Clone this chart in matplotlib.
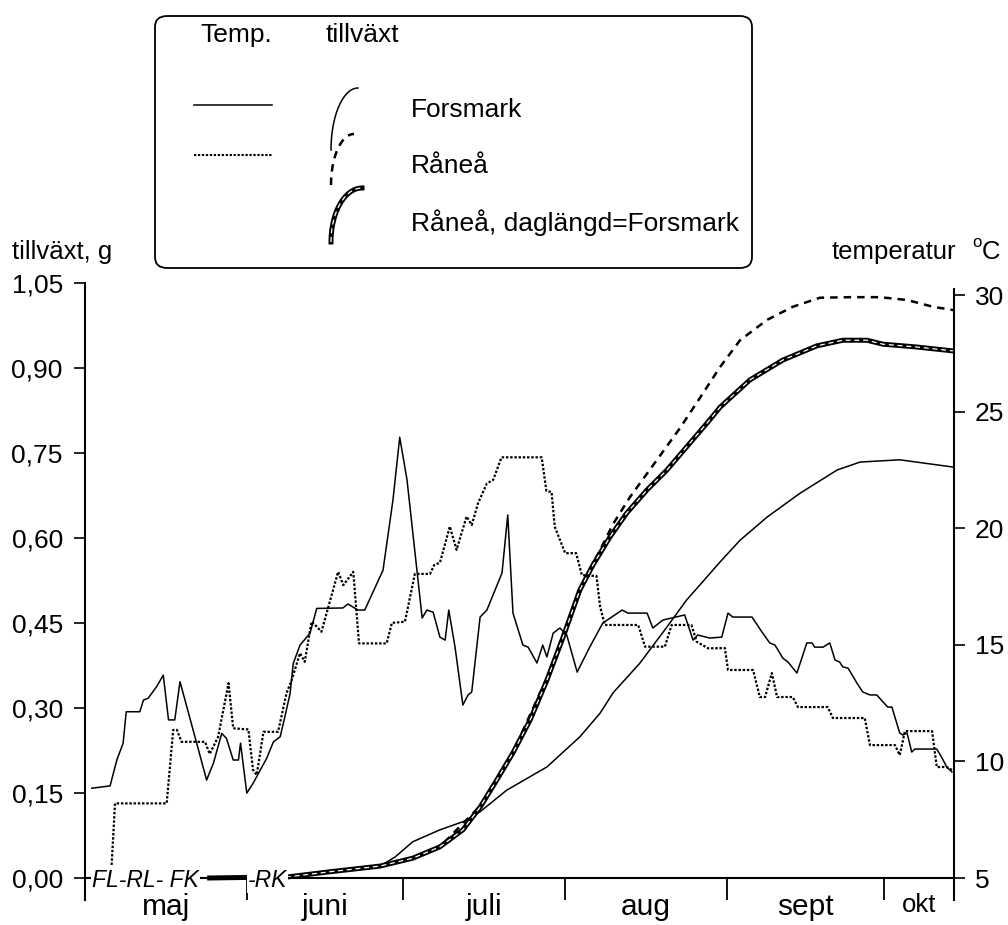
import numpy as np
import matplotlib
matplotlib.use("Agg")
import matplotlib.pyplot as plt
import matplotlib.ticker as mticker
from matplotlib.patches import FancyBboxPatch
from matplotlib.lines import Line2D

plt.rcParams['font.family'] = ['Liberation Sans', 'DejaVu Sans']

# x = dagar räknat från 1 maj
manad_grans = [31, 61, 92, 123, 153]
manad_mitt = [15.5, 46, 76.5, 107.5, 138, 159.75]
manad_namn = ['maj', 'juni', 'juli', 'aug', 'sept', 'okt']
x_slut = 166.5

# vänster axel: tillväxt (g)
tillvaxt_ticks = [0.0, 0.15, 0.30, 0.45, 0.60, 0.75, 0.90, 1.05]
# höger axel: temperatur (°C)
temp_ticks = [5, 10, 15, 20, 25, 30]

# temperatur Forsmark (dag, °C)
temp_forsmark = [
    (1.3, 8.85), (4.8, 8.95), (6.1, 10.06), (7.3, 10.78), (7.9, 12.13), (10.5, 12.13),
    (11.2, 12.63), (12.1, 12.71), (13.7, 13.2), (15.0, 13.7), (16.0, 11.78), (17.2, 11.78),
    (18.2, 13.42), (19.5, 12.35), (21.4, 10.78), (23.3, 9.2), (24.6, 9.92), (26.2, 11.2),
    (27.1, 10.99), (28.4, 10.06), (29.4, 10.06), (29.8, 10.78), (31.0, 8.64), (32.2, 9.06),
    (34.8, 10.13), (36.1, 10.84), (37.4, 11.06), (38.3, 11.92), (39.3, 12.92), (39.9, 14.2),
    (41.2, 14.99), (43.1, 15.49), (44.4, 16.56), (49.4, 16.58), (50.4, 16.75), (52.3, 16.49),
    (53.6, 16.49), (57.1, 18.2), (59.0, 21.2), (60.3, 23.9), (61.7, 22.07), (64.6, 16.15),
    (65.5, 16.49), (66.7, 16.4), (68.0, 15.33), (69.0, 15.2), (69.7, 16.49), (70.9, 14.9),
    (72.4, 12.42), (73.4, 12.85), (74.1, 12.98), (75.7, 16.19), (77.0, 16.49), (79.9, 18.08),
    (81.0, 20.57), (82.0, 16.36), (83.9, 14.99), (84.9, 14.9), (86.6, 14.22), (87.7, 14.99),
    (88.5, 14.48), (89.7, 15.5), (91.0, 15.72), (92.3, 15.42), (94.3, 13.83), (96.7, 14.9),
    (99.2, 15.93), (102.9, 16.49), (104.0, 16.36), (107.7, 16.36), (108.8, 15.72), (110.7, 16.06),
    (114.9, 16.28), (116.5, 15.2), (117.4, 15.42), (119.7, 15.29), (122.0, 15.33), (123.2, 16.36),
    (124.1, 16.19), (127.8, 16.19), (129.7, 15.55), (131.2, 15.08), (132.2, 14.99), (133.7, 14.43),
    (134.7, 14.26), (136.4, 13.79), (138.3, 15.08), (139.3, 15.08), (139.8, 14.9), (141.4, 14.9),
    (142.7, 15.08), (143.7, 14.35), (144.6, 14.26), (145.2, 14.05), (146.2, 14.0), (147.9, 13.36),
    (149.0, 12.98), (150.4, 12.85), (151.7, 12.85), (152.9, 12.55), (153.8, 12.33), (154.6, 12.33),
    (156.1, 11.22), (156.7, 11.13), (157.5, 11.22), (158.4, 10.4), (159.0, 10.53), (163.2, 10.53),
    (164.2, 10.15), (165.1, 9.76), (166.1, 9.55),
]

# temperatur Råneå (dag, °C)
temp_ranea = [
    (5.1, 5.56), (5.75, 8.2), (15.65, 8.2), (16.9, 11.35), (17.6, 11.35), (18.5, 10.84),
    (23.0, 10.84), (23.9, 10.32), (25.5, 11.05), (27.5, 13.35), (28.4, 11.42), (31.3, 11.37),
    (32.2, 9.63), (32.9, 9.42), (34.2, 11.27), (37.0, 11.27), (38.6, 12.92), (39.6, 13.49),
    (41.2, 14.64), (42.1, 14.27), (43.4, 15.99), (44.1, 15.85), (45.3, 15.56), (48.5, 18.13),
    (49.5, 17.56), (51.4, 18.13), (52.5, 15.06), (57.8, 15.06), (58.8, 15.94), (61.3, 15.99),
    (63.2, 18.04), (66.1, 18.04), (66.9, 18.42), (68.0, 18.52), (69.9, 20.07), (71.2, 19.07),
    (73.1, 20.5), (74.1, 20.14), (75.3, 21.07), (77.0, 21.92), (78.2, 22.07), (79.8, 23.04),
    (87.5, 23.04), (88.4, 21.6), (89.4, 21.55), (90.0, 20.07), (92.0, 18.93), (94.1, 18.93),
    (95.2, 17.99), (98.0, 17.95), (98.7, 16.63), (99.6, 15.85), (106.0, 15.85), (107.3, 14.92),
    (111.1, 14.92), (112.4, 15.85), (116.2, 15.85), (117.2, 15.13), (119.4, 14.85), (122.6, 14.86),
    (123.2, 13.92), (128.0, 13.92), (129.3, 12.76), (130.3, 12.76), (131.6, 13.79), (132.6, 12.76),
    (135.6, 12.76), (136.6, 12.33), (142.3, 12.33), (143.3, 11.86), (149.4, 11.86), (150.4, 10.7),
    (155.2, 10.7), (156.1, 10.27), (157.1, 11.3), (162.3, 11.3), (163.2, 9.76), (165.1, 9.76),
    (166.1, 9.63),
]

# tillväxt (dag, g)
tillv_forsmark = [
    (23.4, 0.0), (39.3, 0.004), (46.9, 0.011), (56.5, 0.021), (59.4, 0.037), (62.8, 0.064),
    (68.0, 0.085), (73.2, 0.102), (75.7, 0.117), (80.8, 0.155), (88.5, 0.196), (94.8, 0.249),
    (98.7, 0.291), (101.2, 0.327), (106.3, 0.379), (111.5, 0.443), (115.3, 0.491), (117.8, 0.517),
    (121.7, 0.558), (125.5, 0.596), (130.7, 0.637), (137.0, 0.679), (144.1, 0.720), (148.5, 0.734),
    (156.1, 0.738), (166.5, 0.725),
]
tillv_ranea = [
    (38.9, 0.002), (46.9, 0.011), (56.5, 0.021), (62.8, 0.035), (68.0, 0.055), (75.7, 0.127),
    (82.0, 0.222), (88.5, 0.353), (91.6, 0.427), (94.8, 0.508), (98.7, 0.579), (101.2, 0.625),
    (104.4, 0.672), (109.6, 0.738), (114.0, 0.794), (117.8, 0.847), (121.7, 0.902), (125.5, 0.949),
    (130.7, 0.985), (135.6, 1.008), (140.8, 1.024), (146.6, 1.025), (152.3, 1.025), (157.5, 1.020),
    (162.5, 1.008), (166.5, 1.002),
]
tillv_ranea_dagl = [
    (23.4, 0.0), (38.9, 0.002), (46.9, 0.011), (56.5, 0.021), (62.8, 0.035), (68.0, 0.055),
    (72.4, 0.085), (75.7, 0.125), (78.9, 0.173), (82.0, 0.221), (85.3, 0.279), (88.5, 0.349),
    (91.6, 0.425), (94.8, 0.508), (97.3, 0.552), (100.6, 0.602), (103.8, 0.644), (107.7, 0.685),
    (111.5, 0.720), (115.3, 0.761), (119.2, 0.803), (121.7, 0.831), (127.4, 0.879), (133.7, 0.914),
    (140.2, 0.939), (145.2, 0.949), (149.8, 0.949), (152.9, 0.942), (159.4, 0.937), (166.5, 0.930),
]

# lek / kläckning (dag, text)
handelser = [(1.34, 'FL-RL- FK'), (31.2, '-RK')]

W, H = 1008, 925
def fx(px):
    return px / W
def fy(py):
    return 1 - py / H

fig = plt.figure(figsize=(W / 100, H / 100), dpi=100)
ax = fig.add_axes([fx(85), fy(900), fx(954) - fx(85), fy(283) - fy(900)])
ax2 = ax.twinx()

ax.set_xlim(0, x_slut)
ax.set_ylim(-0.0388, 1.05)
ax2.set_ylim(4.057, 30.515)

# tillväxtkurvor
d, g = zip(*tillv_forsmark)
ax.plot(d, g, color='black', lw=1.1, solid_capstyle='butt')
d, g = zip(*tillv_ranea)
ax.plot(d, g, color='black', lw=1.8, dashes=(3, 2.4))
d, g = zip(*tillv_ranea_dagl)
ax.plot(d, g, color='black', lw=3.6, solid_capstyle='butt')
ax.plot(d, g, color='white', lw=0.9, dashes=(4, 3))

# temperatur
d, t = zip(*temp_forsmark)
ax2.plot(d, t, color='black', lw=1.1)
d, t = zip(*temp_ranea)
ax2.plot(d, t, color='black', lw=1.6, dashes=(1.1, 0.8))

for dag, txt in handelser:
    ax.text(dag, -0.0159, txt, fontsize=16.5, style='italic', va='baseline', ha='left',
            bbox=dict(facecolor='white', edgecolor='none', pad=0.5), zorder=5)

# axlar
for s in ['top', 'right']:
    ax.spines[s].set_visible(False)
for s in ['top', 'left', 'bottom']:
    ax2.spines[s].set_visible(False)
ax.spines['bottom'].set_position(('data', 0))
ax.spines['bottom'].set_linewidth(1.5)
ax.spines['left'].set_linewidth(1.5)
ax2.spines['right'].set_linewidth(1.5)
ax2.spines['right'].set_bounds(4.057, 30.25)

ax.set_yticks(tillvaxt_ticks)
ax.set_yticklabels([f"{v:.2f}".replace('.', ',') for v in tillvaxt_ticks])
ax.tick_params(axis='y', direction='out', length=8, width=1.2, pad=8, labelsize=19)

ax.xaxis.set_major_locator(mticker.FixedLocator(manad_grans))
ax.xaxis.set_major_formatter(mticker.NullFormatter())
ax.xaxis.set_minor_locator(mticker.FixedLocator(manad_mitt))
ax.xaxis.set_minor_formatter(mticker.FixedFormatter(manad_namn))
ax.tick_params(axis='x', which='major', direction='out', length=16, width=1.3)
ax.tick_params(axis='x', which='minor', length=0, pad=11, labelsize=21.5)
ax.get_xticklabels(minor=True)[-1].set_fontsize(18.5)

ax2.set_yticks(temp_ticks)
ax2.set_yticklabels([str(v) for v in temp_ticks])
ax2.tick_params(axis='y', direction='out', length=8, width=1.2, pad=7, labelsize=19)

# axeltitlar
fig.text(fx(12), fy(259), 'tillväxt, g', fontsize=18.5, va='baseline')
fig.text(fx(832), fy(259), 'temperatur', fontsize=18.5, va='baseline')
fig.text(fx(972), fy(247), 'o', fontsize=12, va='baseline')
fig.text(fx(982), fy(259), 'C', fontsize=18.5, va='baseline')

# förklaringsruta
box = FancyBboxPatch((fx(155), fy(268)), fx(752) - fx(155), fy(16) - fy(268),
                     boxstyle='round,pad=0,rounding_size=0.012', transform=fig.transFigure,
                     facecolor='white', edgecolor='black', lw=1.3, zorder=10)
fig.add_artist(box)
fig.text(fx(200), fy(35), 'Temp.', fontsize=19, va='center', zorder=11)
fig.text(fx(326), fy(35), 'tillväxt', fontsize=19, va='center', zorder=11)
fig.add_artist(Line2D([fx(194), fx(272)], [fy(105), fy(105)], color='black', lw=1.1,
                      transform=fig.transFigure, zorder=11))
fig.add_artist(Line2D([fx(194), fx(272)], [fy(155), fy(155)], color='black', lw=1.5,
                      dashes=(1.1, 0.8), transform=fig.transFigure, zorder=11))

def bage(x0, yb, x1, yt):
    tt = np.linspace(0, np.pi / 2, 30)
    xs = x0 + (x1 - x0) * (1 - np.cos(tt))
    ys = yb - (yb - yt) * np.sin(tt)
    return [fx(v) for v in xs], [fy(v) for v in ys]

bx, by = bage(331, 150, 358, 88)
fig.add_artist(Line2D(bx, by, color='black', lw=1.1, transform=fig.transFigure, zorder=11))
bx, by = bage(331, 185, 354, 134)
fig.add_artist(Line2D(bx, by, color='black', lw=1.8, dashes=(3, 2.4),
                      transform=fig.transFigure, zorder=11))
bx, by = bage(331, 242, 362, 188)
fig.add_artist(Line2D(bx, by, color='black', lw=3.6, transform=fig.transFigure, zorder=11))
fig.add_artist(Line2D(bx, by, color='white', lw=0.9, dashes=(4, 3),
                      transform=fig.transFigure, zorder=12))

fig.text(fx(411), fy(110), 'Forsmark', fontsize=19, va='center', zorder=11)
fig.text(fx(411), fy(166), 'Råneå', fontsize=19, va='center', zorder=11)
fig.text(fx(411), fy(223), 'Råneå, daglängd=Forsmark', fontsize=19, va='center', zorder=11)

fig.savefig('out.png', dpi=100, facecolor='white')
